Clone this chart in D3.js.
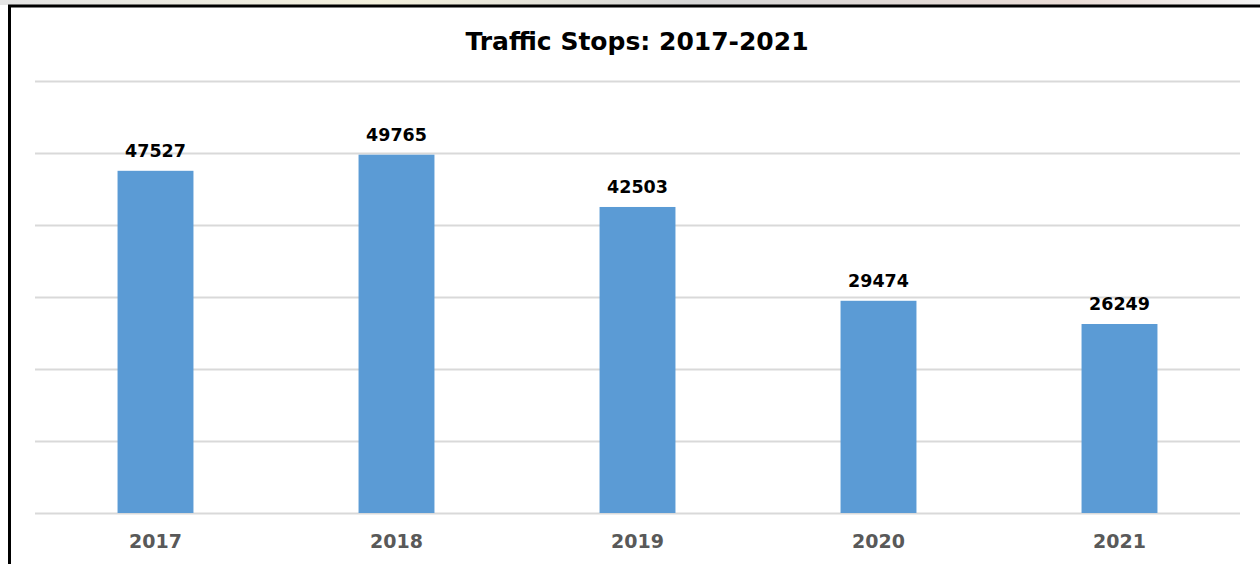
<!DOCTYPE html>
<html>
<head>
<meta charset="utf-8">
<script src="https://cdn.jsdelivr.net/npm/d3@7"></script>
<style>
  body { margin: 0; background: #fff; }
  svg { display: block; }
</style>
</head>
<body>
<div id="chart"></div>
<script>
// data
const years = ["2017", "2018", "2019", "2020", "2021"];
const stops = [47527, 49765, 42503, 29474, 26249];
const yTicks = [0, 10000, 20000, 30000, 40000, 50000, 60000];

const W = 1260, H = 564;
const margin = {top: 81, right: 20, bottom: 51, left: 35};
const width = W - margin.left - margin.right,
      height = H - margin.top - margin.bottom;

const svg = d3.select("#chart").append("svg")
    .attr("width", W)
    .attr("height", H);

// faded strip above the frame
const grad = svg.append("defs").append("linearGradient").attr("id", "strip");
grad.append("stop").attr("offset", "0%").attr("stop-color", "#e4e4e4");
grad.append("stop").attr("offset", "30%").attr("stop-color", "#f3f0dc");
grad.append("stop").attr("offset", "55%").attr("stop-color", "#d6d6d6");
grad.append("stop").attr("offset", "85%").attr("stop-color", "#eadcd6");
grad.append("stop").attr("offset", "100%").attr("stop-color", "#f4f4f4");
svg.append("rect").attr("x", 0).attr("y", 0).attr("width", W).attr("height", 5)
    .attr("fill", "url(#strip)");

// frame: top and left black edges
svg.append("line").attr("x1", 8).attr("x2", W).attr("y1", 6).attr("y2", 6)
    .attr("stroke", "#000").attr("stroke-width", 3);
svg.append("line").attr("x1", 9.5).attr("x2", 9.5).attr("y1", 5).attr("y2", H)
    .attr("stroke", "#000").attr("stroke-width", 3);

const g = svg.append("g")
    .attr("transform", `translate(${margin.left},${margin.top})`);

const x = d3.scaleBand()
  .domain(years)
  .range([0, width])
  .paddingInner(0.685)
  .paddingOuter(0.3425);

const y = d3.scaleLinear()
  .domain([0, 60000])
  .range([height, 0]);

// gridlines
g.append("g")
  .call(d3.axisLeft(y).tickValues(yTicks).tickSize(-width).tickFormat(""))
  .call(a => a.select(".domain").remove())
  .call(a => a.selectAll("line").attr("stroke", "#d9d9d9").attr("stroke-width", 2));

// bars
g.selectAll("rect.bar")
  .data(stops)
  .join("rect")
    .attr("class", "bar")
    .attr("x", (d, i) => x(years[i]))
    .attr("y", d => y(d))
    .attr("width", x.bandwidth())
    .attr("height", d => height - y(d))
    .attr("fill", "#5b9bd5");

// value labels
g.selectAll("text.val")
  .data(stops)
  .join("text")
    .attr("class", "val")
    .attr("x", (d, i) => x(years[i]) + x.bandwidth() / 2)
    .attr("y", d => y(d) - 14)
    .attr("text-anchor", "middle")
    .style("font-family", "DejaVu Sans")
    .style("font-weight", "bold")
    .style("font-size", "17.5px")
    .attr("fill", "#000")
    .text(d => d);

// x axis labels
g.append("g")
  .attr("transform", `translate(0,${height})`)
  .call(d3.axisBottom(x).tickSize(0).tickPadding(22))
  .call(a => a.select(".domain").remove())
  .selectAll("text")
    .style("font-family", "DejaVu Sans")
    .style("font-weight", "bold")
    .style("font-size", "19px")
    .attr("fill", "#595959");

// title
svg.append("text")
  .attr("x", 637)
  .attr("y", 50)
  .attr("text-anchor", "middle")
  .style("font-family", "DejaVu Sans")
  .style("font-weight", "bold")
  .style("font-size", "25px")
  .attr("fill", "#000")
  .text("Traffic Stops: 2017-2021");
</script>
</body>
</html>
